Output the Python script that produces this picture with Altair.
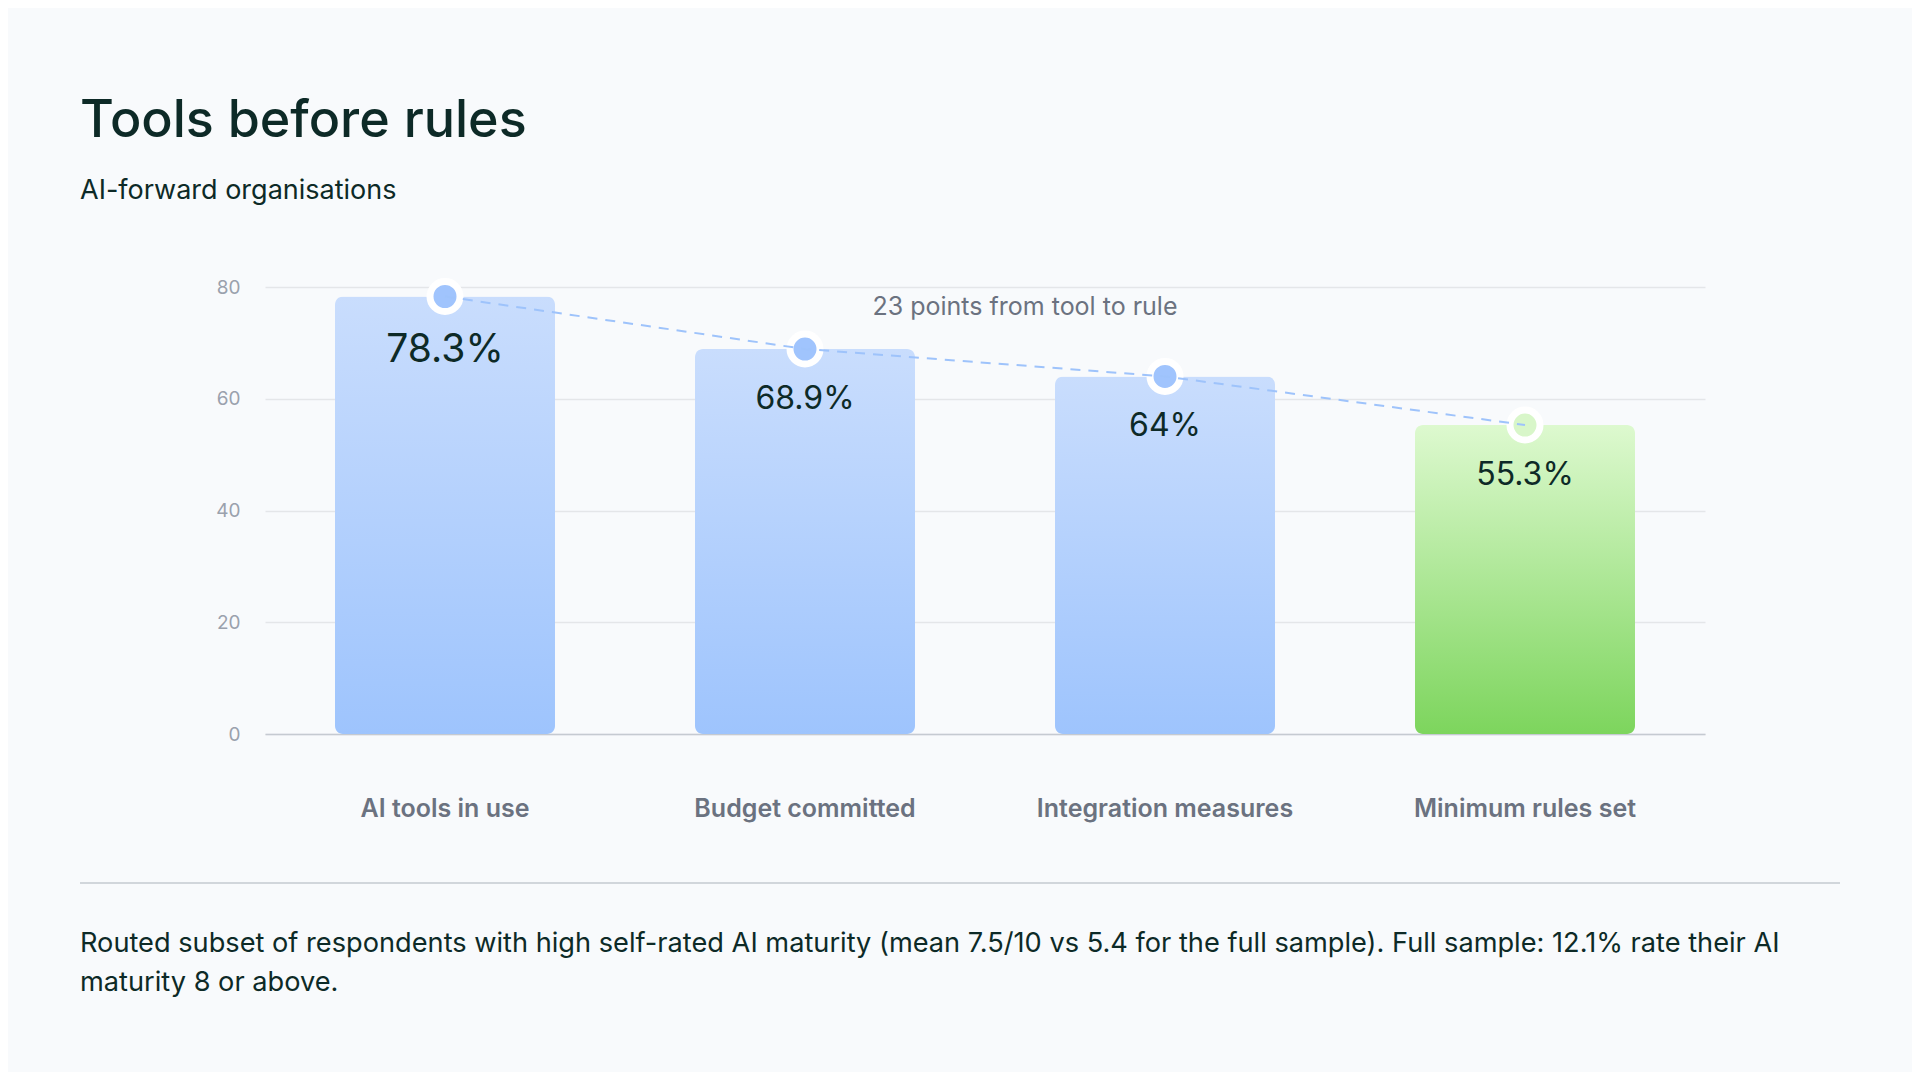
import altair as alt
import pandas as pd

# ---- data ----
categories = ["AI tools in use", "Budget committed", "Integration measures", "Minimum rules set"]
values = [78.3, 68.9, 64.0, 55.3]
labels = ["78.3%", "68.9%", "64%", "55.3%"]
kinds = ["tool", "tool", "tool", "rule"]
y_ticks = [0, 20, 40, 60, 80]

title_text = "Tools before rules"
subtitle_text = "AI-forward organisations"
annotation_text = "23 points from tool to rule"
annotation_level = 75
footnote_lines = [
    "Routed subset of respondents with high self-rated AI maturity (mean 7.5/10 vs 5.4 for the full sample). Full sample: 12.1% rate their AI",
    "maturity 8 or above.",
]

df = pd.DataFrame({"category": categories, "value": values, "label": labels, "kind": kinds})
one = pd.DataFrame({"k": [0]})

FONT = "Inter"
DARK = "#0d2a27"
GRAY = "#6b7280"

blue_grad = alt.Gradient(
    gradient="linear", x1=0, y1=0, x2=0, y2=1,
    stops=[alt.GradientStop(offset=0, color="#c9ddfd"), alt.GradientStop(offset=1, color="#9ec4fd")],
)
green_grad = alt.Gradient(
    gradient="linear", x1=0, y1=0, x2=0, y2=1,
    stops=[alt.GradientStop(offset=0, color="#ddf9cf"), alt.GradientStop(offset=1, color="#7dd55d")],
)

x_enc = alt.X(
    "category:N",
    sort=categories,
    title=None,
    scale=alt.Scale(paddingInner=0.3889, paddingOuter=0.19445),
    axis=alt.Axis(
        labelAngle=0, grid=False, ticks=False, domain=True, domainColor="#c5cad1", domainWidth=1.5,
        labelPadding=82, labelBaseline="alphabetic", labelFont=FONT, labelFontSize=25,
        labelFontWeight=600, labelColor=GRAY, labelLimit=0,
    ),
)
y_enc = alt.Y(
    "value:Q",
    title=None,
    scale=alt.Scale(domain=[0, 80], nice=False),
    axis=alt.Axis(
        values=y_ticks, grid=True, gridColor="#e4e6e9", gridWidth=1.5, domain=False, ticks=False,
        labelPadding=25, labelFont=FONT, labelFontSize=19, labelColor="#9aa1ad",
    ),
)

base = alt.Chart(df).encode(x=x_enc, y=y_enc)

bars_tool = base.transform_filter(alt.datum.kind == "tool").mark_bar(cornerRadius=8, color=blue_grad)
bars_rule = base.transform_filter(alt.datum.kind == "rule").mark_bar(cornerRadius=8, color=green_grad)

dots = base.mark_circle(size=900, opacity=1, stroke="#ffffff", strokeWidth=7).encode(
    color=alt.Color("kind:N", scale=alt.Scale(domain=["tool", "rule"], range=["#a0c4fd", "#d8f6c9"]), legend=None)
)

line = base.mark_line(strokeDash=[10, 8], color="#9ec3fb", strokeWidth=2)

value_labels = base.mark_text(baseline="top", dy=35, font=FONT, color=DARK, fontWeight=400).encode(
    text="label:N",
    size=alt.condition(alt.datum.category == categories[0], alt.value(39), alt.value(32)),
)

annotation = alt.Chart(one).mark_text(
    text=annotation_text, align="center", baseline="alphabetic", font=FONT, fontSize=25, color=GRAY
).encode(x=alt.value(760), y=alt.datum(annotation_level))

title = alt.Chart(one).mark_text(
    text=title_text, align="left", baseline="alphabetic", font=FONT, fontSize=52, fontWeight=500, color=DARK
).encode(x=alt.value(-185), y=alt.value(-150))

subtitle = alt.Chart(one).mark_text(
    text=subtitle_text, align="left", baseline="alphabetic", font=FONT, fontSize=27, color=DARK
).encode(x=alt.value(-185), y=alt.value(-88))

separator = alt.Chart(one).mark_rule(color="#c5cad1", strokeWidth=1.5).encode(
    x=alt.value(-185), x2=alt.value(1575), y=alt.value(596)
)

footnote = alt.Chart(one).mark_text(
    text=footnote_lines, align="left", baseline="alphabetic", font=FONT, fontSize=27.2,
    lineHeight=38.5, color=DARK
).encode(x=alt.value(-185), y=alt.value(665))

chart = alt.layer(
    bars_tool, bars_rule, dots, line, value_labels, annotation, title, subtitle, separator, footnote
).properties(
    width=1440,
    height=447,
    background="#f8fafc",
    autosize=alt.AutoSizeParams(type="none"),
    padding={"left": 257, "top": 279, "right": 207, "bottom": 338},
).configure(font=FONT).configure_view(strokeWidth=0, stroke="transparent")

chart.save("out.html", embed_options={"renderer": "svg", "actions": False})
